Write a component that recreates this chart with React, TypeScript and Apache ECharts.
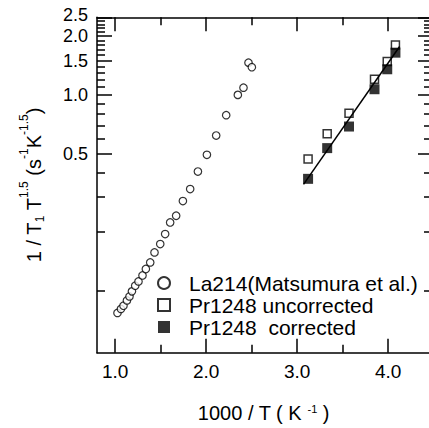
import React, { useEffect, useRef } from "react";
import * as echarts from "echarts";

// La214 (Matsumura et al.) : x = 1000/T, y = 1/T1T^1.5
const laX = [1.025, 1.063, 1.091, 1.129, 1.157, 1.184, 1.22, 1.256, 1.3, 1.337, 1.385, 1.432, 1.495, 1.549, 1.604, 1.67, 1.744, 1.824, 1.909, 2.008, 2.11, 2.22, 2.348, 2.41, 2.465, 2.502];
const laY = [0.0767, 0.0804, 0.0835, 0.0889, 0.0932, 0.0989, 0.1057, 0.1112, 0.1193, 0.1287, 0.1391, 0.1565, 0.1727, 0.1943, 0.2228, 0.2411, 0.2866, 0.3301, 0.406, 0.4942, 0.6204, 0.7888, 1.002, 1.091, 1.465, 1.388];

// Pr1248
const prX = [3.12, 3.33, 3.57, 3.85, 3.99, 4.08];
const prUncorrected = [0.47, 0.633, 0.807, 1.205, 1.483, 1.804];
const prCorrected = [0.3725, 0.535, 0.69, 1.071, 1.355, 1.648];

// straight-line fit through the corrected points (end points)
const fitX = [3.07, 4.126];
const fitY = [0.349, 1.773];

// axes
const yMin = 0.048;
const yMax = 2.5;
const yMajor = [0.5, 1.0, 1.5, 2.0, 2.5];
const yLabels = [0.5, 1.0, 1.5, 2.0];
const yTopLabel = [2.5];
const yMinor = [0.1, 0.2, 0.3, 0.4, 0.6, 0.7, 0.8, 0.9, 1.1, 1.2, 1.3, 1.4, 1.6, 1.7, 1.8, 1.9, 2.1, 2.2, 2.3, 2.4];
const xMin = 0.8;
const xMax = 4.46;
const xMajor = [1, 2, 3, 4];
const xMinor = [1.5, 2.5, 3.5];

const FONT = "Liberation Sans";
const lg = (v: number) => Math.log10(v);

export default function App() {
  const ref = useRef<HTMLDivElement>(null);
  useEffect(() => {
    if (!ref.current) return;
    const chart = echarts.init(ref.current, null, { renderer: "svg" });
    const lineStyle = { color: "#000", width: 1.5 };
    const baseX = {
      type: "value",
      min: xMin,
      max: xMax,
      splitLine: { show: false },
      gridIndex: 0,
    };
    const baseY = {
      type: "value",
      min: lg(yMin),
      max: lg(yMax),
      splitLine: { show: false },
      gridIndex: 0,
    };
    const mk = (vals: number[]) => vals.map((v) => lg(v));
    const yLabelStyle = {
      show: true,
      interval: 0,
      hideOverlap: false,
      showMaxLabel: true,
      showMinLabel: true,
      margin: 9,
      fontFamily: FONT,
      fontSize: 18,
      lineHeight: 16,
      color: "#000",
    };
    chart.setOption({
      animation: false,
      backgroundColor: "#fff",
      grid: { left: 97, top: 17.3, right: -1, bottom: 75.3, outerBoundsMode: "none", containLabel: false },
      legend: {
        orient: "vertical",
        left: 157,
        top: 272,
        padding: 0,
        itemGap: 0,
        itemWidth: 12,
        itemHeight: 12,
        data: ["La214(Matsumura et al.)", "Pr1248 uncorrected", "Pr1248  corrected"],
        textStyle: { fontFamily: FONT, fontSize: 21, color: "#000", lineHeight: 22, padding: [0, 0, 0, 14] },
      },
      xAxis: [
        {
          ...baseX,
          position: "bottom",
          axisLine: { show: true, onZero: false, lineStyle },
          axisTick: { show: true, inside: true, length: 14, customValues: xMajor, lineStyle },
          axisLabel: {
            show: true,
            interval: 0,
            customValues: xMajor,
            margin: 9,
            fontFamily: FONT,
            fontSize: 19,
            color: "#000",
            formatter: (v: number) => v.toFixed(1),
          },
          name: "1000 / T ( K {sup|-1} )",
          nameLocation: "middle",
          nameGap: 50,
          nameMoveOverlap: false,
          nameTextStyle: {
            fontFamily: FONT,
            fontSize: 20,
            color: "#000",
            rich: { sup: { fontFamily: FONT, fontSize: 11, color: "#000", padding: [0, 0, 8, 0] } },
          },
        },
        {
          ...baseX,
          position: "bottom",
          axisLine: { show: false, onZero: false },
          axisTick: { show: true, inside: true, length: 8, customValues: xMinor, lineStyle },
          axisLabel: { show: false },
        },
        {
          ...baseX,
          position: "top",
          axisLine: { show: true, onZero: false, lineStyle },
          axisTick: { show: true, inside: true, length: 14, customValues: xMajor, lineStyle },
          axisLabel: { show: false },
        },
        {
          ...baseX,
          position: "top",
          axisLine: { show: false, onZero: false },
          axisTick: { show: true, inside: true, length: 8, customValues: xMinor, lineStyle },
          axisLabel: { show: false },
        },
      ],
      yAxis: [
        {
          ...baseY,
          position: "left",
          axisLine: { show: true, onZero: false, lineStyle },
          axisTick: { show: true, inside: true, length: 15, customValues: mk(yMajor), lineStyle },
          axisLabel: {
            ...yLabelStyle,
            customValues: mk(yLabels),
            formatter: (v: number) => Math.pow(10, v).toFixed(1),
          },
          name: "1 / T{sub|1} T{sup|1.5} (s{sup|-1}K{sup|-1.5})",
          nameLocation: "middle",
          nameGap: 47,
          nameRotate: 90,
          nameMoveOverlap: false,
          nameTextStyle: {
            fontFamily: FONT,
            fontSize: 20,
            color: "#000",
            rich: {
              sub: { fontFamily: FONT, fontSize: 12, color: "#000", padding: [12, 0, 0, 0] },
              sup: { fontFamily: FONT, fontSize: 12, color: "#000", padding: [0, 0, 20, 0] },
            },
          },
        },
        {
          ...baseY,
          position: "left",
          axisLine: { show: false, onZero: false },
          axisTick: { show: true, inside: true, length: 8, customValues: mk(yMinor), lineStyle },
          axisLabel: {
            ...yLabelStyle,
            customValues: mk(yTopLabel),
            formatter: (v: number) => "{top|" + Math.pow(10, v).toFixed(1) + "}",
            rich: { top: { fontFamily: FONT, fontSize: 18, color: "#000", lineHeight: 16, padding: [0, 0, 4, 0] } },
          },
        },
        {
          ...baseY,
          position: "right",
          axisLine: { show: true, onZero: false, lineStyle },
          axisTick: { show: true, inside: true, length: 12, customValues: mk(yMajor), lineStyle },
          axisLabel: { show: false },
        },
        {
          ...baseY,
          position: "right",
          axisLine: { show: false, onZero: false },
          axisTick: { show: true, inside: true, length: 6, customValues: mk(yMinor), lineStyle },
          axisLabel: { show: false },
        },
      ],
      series: [
        {
          name: "La214(Matsumura et al.)",
          type: "scatter",
          symbol: "circle",
          symbolSize: 7.5,
          itemStyle: { color: "#fff", borderColor: "#000", borderWidth: 1.2 },
          data: laX.map((x, i) => [x, lg(laY[i])]),
        },
        {
          name: "Pr1248 uncorrected",
          type: "scatter",
          symbol: "rect",
          symbolSize: 8,
          itemStyle: { color: "#fff", borderColor: "#000", borderWidth: 1.5 },
          data: prX.map((x, i) => [x, lg(prUncorrected[i])]),
        },
        {
          name: "Pr1248  corrected",
          type: "scatter",
          symbol: "rect",
          symbolSize: 10,
          itemStyle: { color: "#000", borderColor: "#000", borderWidth: 0 },
          data: prX.map((x, i) => [x, lg(prCorrected[i])]),
        },
        {
          name: "fit",
          type: "line",
          symbol: "none",
          lineStyle: { color: "#000", width: 1.5 },
          data: fitX.map((x, i) => [x, lg(fitY[i])]),
          z: 3,
        },
      ],
    });
    return () => chart.dispose();
  }, []);
  return (
    <div
      ref={ref}
      style={{ position: "fixed", left: 0, top: 0, width: 429, height: 428, background: "#fff" }}
    />
  );
}
